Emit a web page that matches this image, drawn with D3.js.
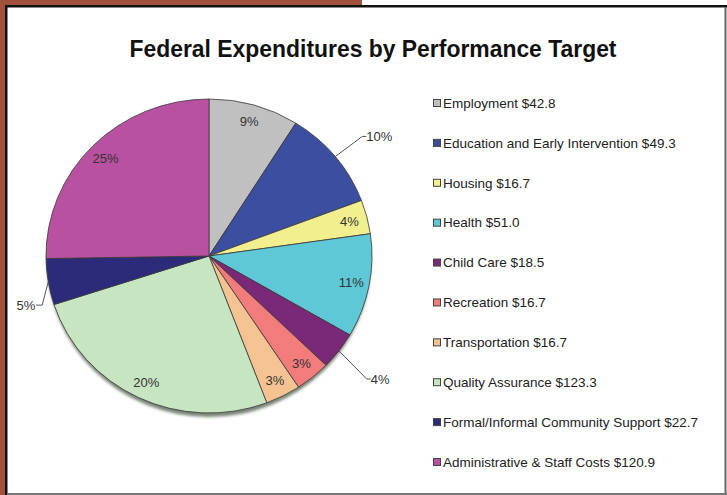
<!DOCTYPE html>
<html>
<head>
<meta charset="utf-8">
<script src="https://cdn.jsdelivr.net/npm/d3@7"></script>
<style>
  html, body { margin: 0; padding: 0; background: #fff; }
  svg { display: block; font-family: "Liberation Sans", Arial, sans-serif; }
</style>
</head>
<body>
<div id="chart"></div>
<script>
const categories = ["Employment", "Education and Early Intervention", "Housing", "Health",
  "Child Care", "Recreation", "Transportation", "Quality Assurance",
  "Formal/Informal Community Support", "Administrative & Staff Costs"];
const amounts = [42.8, 49.3, 16.7, 51.0, 18.5, 16.7, 16.7, 123.3, 22.7, 120.9];
const amountLabels = ["$42.8", "$49.3", "$16.7", "$51.0", "$18.5", "$16.7", "$16.7", "$123.3", "$22.7", "$120.9"];
const percentLabels = ["9%", "10%", "4%", "11%", "4%", "3%", "3%", "20%", "5%", "25%"];
const colors = ["#c0c0c0", "#3b4ea0", "#f2ef8f", "#5ec8d6", "#7a2878",
  "#f27b7b", "#f5c392", "#c7e5c1", "#2b2b7a", "#b8519f"];

const width = 727, height = 495;
const cx = 209, cy = 256, rx = 163, ry = 157;

// leader-line labels: elbow angle (deg) and radius relative to pie
const outside = {1: {a: 51, r: 1.21}, 4: {a: 129, r: 1.245}, 8: {a: 253, r: 1.07}};

const svg = d3.select("#chart").append("svg")
  .attr("width", width).attr("height", height);

// frame
svg.append("rect").attr("width", width).attr("height", height).attr("fill", "#fff");
svg.append("rect").attr("x", 0).attr("y", 0).attr("width", 5).attr("height", height).attr("fill", "#a0513b");
svg.append("rect").attr("x", 0).attr("y", 0).attr("width", 362).attr("height", 5).attr("fill", "#a0513b");
svg.append("rect").attr("x", 5).attr("y", 5).attr("width", 2.5).attr("height", height - 5).attr("fill", "#111");
svg.append("rect").attr("x", 5).attr("y", 5).attr("width", width - 5).attr("height", 2.5).attr("fill", "#111");
svg.append("rect").attr("x", 724.5).attr("y", 7).attr("width", 2).attr("height", height - 7).attr("fill", "#666");
svg.append("rect").attr("x", 7).attr("y", 493).attr("width", width - 7).attr("height", 2).attr("fill", "#777");

svg.append("text")
  .attr("x", 373).attr("y", 57)
  .attr("text-anchor", "middle")
  .attr("font-size", 24).attr("font-weight", "bold")
  .attr("fill", "#111")
  .attr("textLength", 487).attr("lengthAdjust", "spacingAndGlyphs")
  .text("Federal Expenditures by Performance Target");

const defs = svg.append("defs");
defs.append("filter").attr("id", "blur")
  .append("feGaussianBlur").attr("stdDeviation", 1.5);

// shadow
svg.append("ellipse")
  .attr("cx", cx).attr("cy", cy + 4)
  .attr("rx", rx - 1).attr("ry", ry)
  .attr("fill", "#4c5a47").attr("opacity", 0.75)
  .attr("filter", "url(#blur)");

const pie = d3.pie().sort(null).value(d => d)(amounts);
const arc = d3.arc().innerRadius(0).outerRadius(rx);

svg.append("g")
  .attr("transform", `translate(${cx},${cy}) scale(1,${ry / rx})`)
  .selectAll("path")
  .data(pie)
  .join("path")
  .attr("d", arc)
  .attr("fill", (d, i) => colors[i])
  .attr("stroke", "#3a3a3a")
  .attr("stroke-width", 0.8)
  .attr("vector-effect", "non-scaling-stroke");

const pt = (angle, r) => [cx + r * rx * Math.sin(angle), cy - r * ry * Math.cos(angle)];
const mid = d => (d.startAngle + d.endAngle) / 2;

const labels = svg.append("g")
  .attr("font-size", 13).attr("fill", "#333");

pie.forEach((d, i) => {
  const o = outside[i];
  if (!o) {
    const [x, y] = pt(mid(d), 0.89);
    labels.append("text")
      .attr("x", x).attr("y", y).attr("dy", "0.35em")
      .attr("text-anchor", "middle")
      .text(percentLabels[i]);
  } else {
    const p0 = pt(mid(d), 1.0);
    const p1 = pt(o.a * Math.PI / 180, o.r);
    const right = p1[0] > cx;
    const p2 = [p1[0] + (right ? 4 : -6), p1[1]];
    labels.append("path")
      .attr("d", d3.line()([p0, p1, p2]))
      .attr("fill", "none").attr("stroke", "#555").attr("stroke-width", 1);
    labels.append("text")
      .attr("x", p2[0] + (right ? 0 : -1)).attr("y", p2[1]).attr("dy", "0.35em")
      .attr("text-anchor", right ? "start" : "end")
      .text(percentLabels[i]);
  }
});

// legend
const ly = d3.scalePoint().domain(d3.range(categories.length)).range([103, 462]);
const legend = svg.append("g").selectAll("g")
  .data(categories)
  .join("g")
  .attr("transform", (d, i) => `translate(433,${ly(i)})`);

legend.append("rect")
  .attr("x", 0.5).attr("y", -3.5).attr("width", 7).attr("height", 7)
  .attr("fill", (d, i) => colors[i])
  .attr("stroke", "#444").attr("stroke-width", 1);

legend.append("text")
  .attr("x", 10).attr("y", 0).attr("dy", "0.35em")
  .attr("font-size", 13.5).attr("fill", "#222")
  .text((d, i) => `${d} ${amountLabels[i]}`);
</script>
</body>
</html>
